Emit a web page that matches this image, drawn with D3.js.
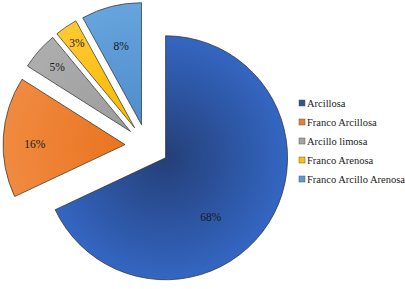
<!DOCTYPE html>
<html>
<head>
<meta charset="utf-8">
<script src="https://cdn.jsdelivr.net/npm/d3@7"></script>
<style>
  body { margin: 0; background: #fff; }
</style>
</head>
<body>
<div id="chart"></div>
<script>
// data
const categories = ["Arcillosa", "Franco Arcillosa", "Arcillo limosa", "Franco Arenosa", "Franco Arcillo Arenosa"];
const values = [68, 16, 5, 3, 8];
const labels = ["68%", "16%", "5%", "3%", "8%"];

// colours: [centre, rim]
const colors = [
    ["#243f78", "#3466c2"],
    ["#e9741f", "#f08a40"],
    ["#9c9c9c", "#adadad"],
    ["#f7b900", "#ffc933"],
    ["#4f8ccb", "#66a4dd"]
];
const legendColors = ["#2f5597", "#ed7d31", "#a5a5a5", "#ffc000", "#5b9bd5"];

// label placement (fraction of radius, angle shift in radians)
const labelPlace = [[0.61, 0.35], [0.74, -0.06], [0.8, 0.0], [0.84, 0.0], [0.67, 0.0]];

const fontFamily = '"Times New Roman", "Liberation Serif", "DejaVu Serif", serif';

const width = 405, height = 289;
const cx = 147, cy = 146, radius = 122, explode = 22;

const svg = d3.select("#chart").append("svg")
    .attr("width", width)
    .attr("height", height)
    .style("display", "block");

const defs = svg.append("defs");

const pie = d3.pie().sort(null).value(d => d.value);
const arc = d3.arc().innerRadius(0).outerRadius(radius);

const data = categories.map((c, i) => ({ name: c, value: values[i], label: labels[i], i: i }));
const arcs = pie(data);

const g = svg.append("g").attr("transform", `translate(${cx},${cy})`);

arcs.forEach(a => {
    const mid = (a.startAngle + a.endAngle) / 2;
    const ox = Math.sin(mid) * explode;
    const oy = -Math.cos(mid) * explode;
    const i = a.data.i;

    const grad = defs.append("radialGradient")
        .attr("id", "grad" + i)
        .attr("gradientUnits", "userSpaceOnUse")
        .attr("cx", 0).attr("cy", 0).attr("r", radius);
    grad.append("stop").attr("offset", "0%").attr("stop-color", colors[i][0]);
    grad.append("stop").attr("offset", "100%").attr("stop-color", colors[i][1]);

    const slice = g.append("g").attr("transform", `translate(${ox},${oy})`);
    slice.append("path")
        .attr("d", arc(a))
        .attr("fill", `url(#grad${i})`)
        .attr("stroke", "#2b2b2b")
        .attr("stroke-width", 0.7)
        .attr("stroke-linejoin", "round");

    const lp = labelPlace[i];
    const la = mid + lp[1];
    const lr = radius * lp[0];
    slice.append("text")
        .attr("x", Math.sin(la) * lr)
        .attr("y", -Math.cos(la) * lr)
        .attr("dy", "0.35em")
        .attr("text-anchor", "middle")
        .attr("font-family", fontFamily)
        .attr("font-size", 11.5)
        .attr("fill", "#1a1a1a")
        .text(a.data.label);
});

// legend
const legend = svg.append("g").attr("transform", "translate(299,103)");
const rowH = 19;
categories.forEach((c, i) => {
    const row = legend.append("g").attr("transform", `translate(0,${i * rowH})`);
    row.append("rect")
        .attr("x", 0).attr("y", -3)
        .attr("width", 6).attr("height", 6)
        .attr("fill", legendColors[i])
        .attr("stroke", "#555")
        .attr("stroke-width", 0.5);
    row.append("text")
        .attr("x", 8)
        .attr("y", 0)
        .attr("dy", "0.35em")
        .attr("font-family", fontFamily)
        .attr("font-size", 10.5)
        .attr("fill", "#1a1a1a")
        .text(c);
});
</script>
</body>
</html>
